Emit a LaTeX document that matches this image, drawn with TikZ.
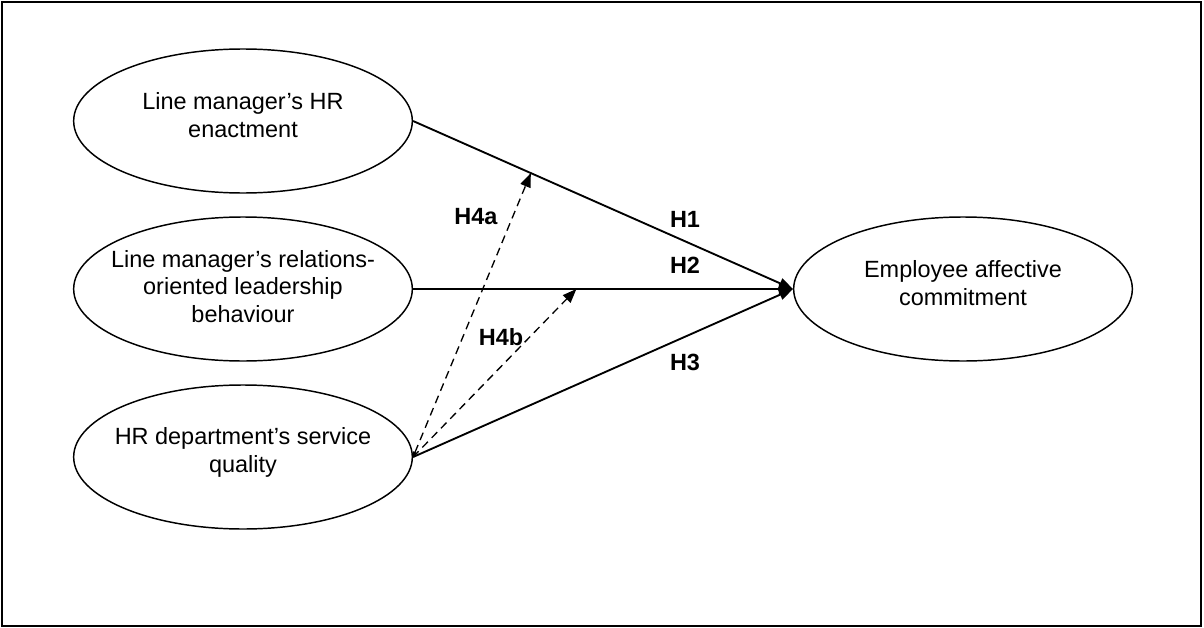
\documentclass[tikz,border=0pt]{standalone}
\usepackage{fontspec}
\setmainfont{Liberation Sans}
\usetikzlibrary{shapes.geometric,arrows.meta}

\tikzset{
  construct/.style={draw, ellipse, line width=1.1pt, inner sep=0pt,
    minimum width=254pt, minimum height=108pt},
  ctext/.style={align=center, inner sep=0pt, yshift=4.5pt,
    font=\fontsize{17.6pt}{20.5pt}\selectfont},
  path/.style={line width=1.4pt, -{Triangle[length=10.5pt,width=8pt]}},
  moderation/.style={line width=1pt, dash pattern=on 6pt off 4pt,
    -{Triangle[length=10.5pt,width=8pt]}},
  hyp/.style={font=\fontsize{17.6pt}{20.5pt}\selectfont\bfseries}
}

\begin{document}
\begin{tikzpicture}[x=0.75pt, y=-0.75pt, node distance=126pt]
    \useasboundingbox (0,0) rectangle (1204,628);
    \draw[line width=1.5pt] (2,2) rectangle (1201,626);

    % constructs
    \node[construct, label={[ctext]center:Line manager's HR\\enactment}] (enact) at (243,121) {};
    \node[construct, below of=enact, label={[ctext, yshift=-2.5pt]center:Line manager's relations-\\oriented leadership\\behaviour}] (lead) {};
    \node[construct, below of=lead, label={[ctext, yshift=-1pt]center:HR department's service\\quality}] (service) {};
    \node[construct, right of=lead, node distance=540pt, label={[ctext]center:Employee affective\\commitment}] (commit) {};

    % direct effects
    \draw[path] (enact.east) -- (commit.west) coordinate[pos=0.31] (onH1);
    \draw[path] (lead.east) -- (commit.west) coordinate[pos=0.43] (onH2);
    \draw[path] (service.east) -- (commit.west);

    % moderation
    \draw[moderation, {Triangle[length=4pt,width=3pt]}-{Triangle[length=10.5pt,width=8pt]}] (service.east) -- (onH1);
    \draw[moderation] (service.east) -- (onH2);

    \node[hyp] (h1) at (685,219) {H1};
    \node[hyp] (h2) at (685,265) {H2};
    \node[hyp] (h3) at (685,362) {H3};
    \node[hyp] (h4a) at (476,217) {H4a};
    \node[hyp] (h4b) at (501,337) {H4b};
\end{tikzpicture}
\end{document}
